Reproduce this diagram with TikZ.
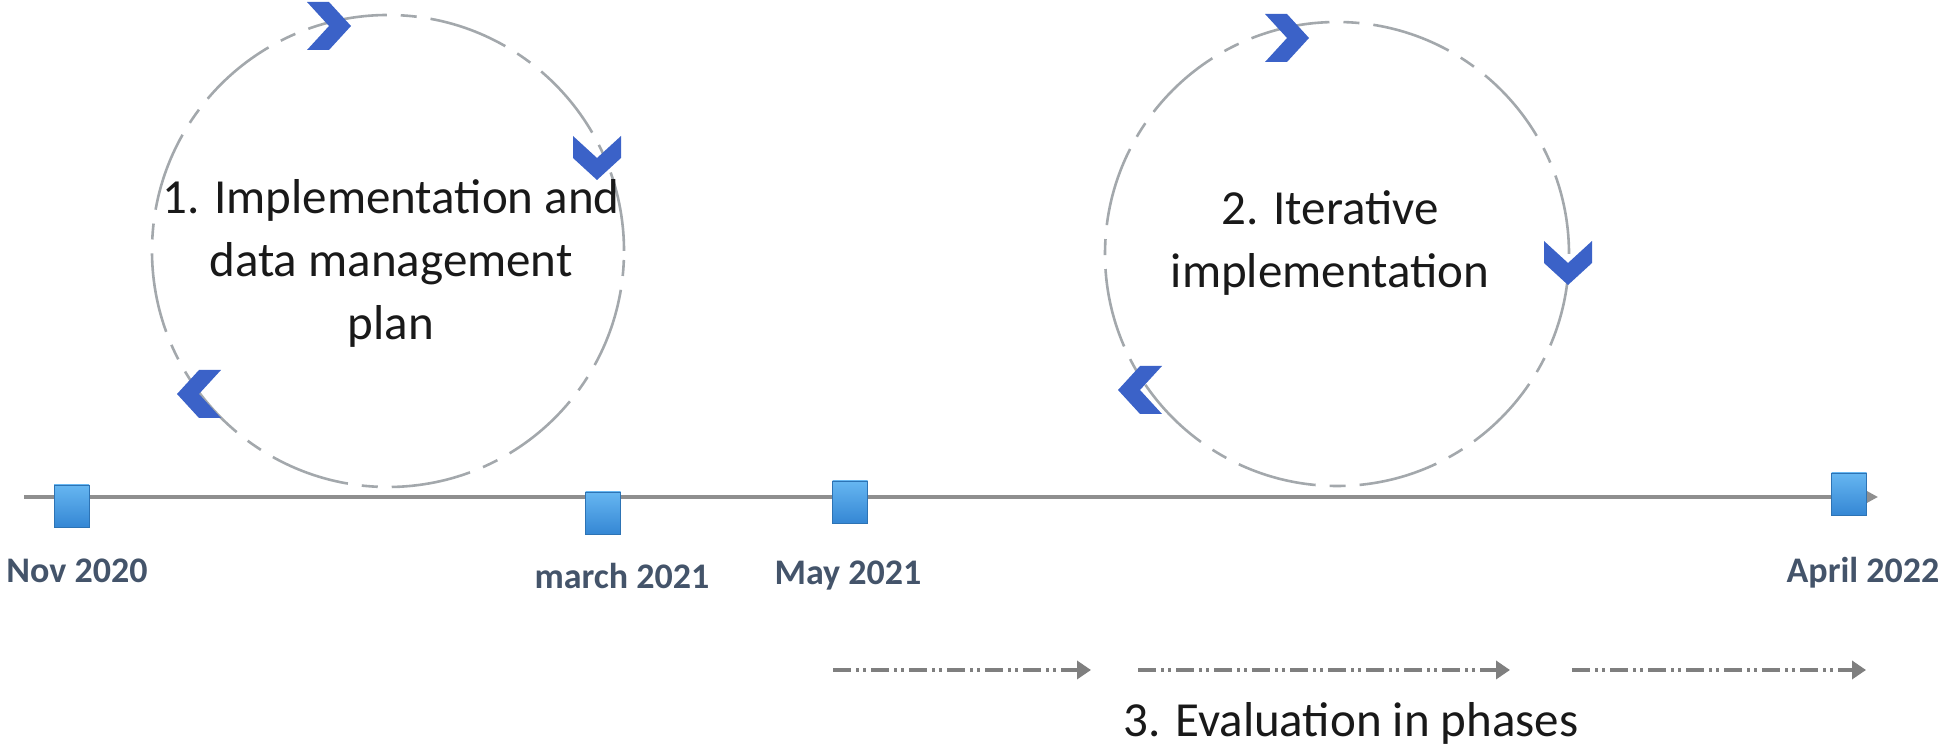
\documentclass[tikz,border=0pt]{standalone}
\usepackage{fontspec}
\setmainfont{Carlito}
\usetikzlibrary{arrows.meta}
\definecolor{chevblue}{HTML}{3B62C8}
\definecolor{sqtop}{HTML}{66B6F1}
\definecolor{sqbot}{HTML}{3587D4}
\definecolor{datecol}{HTML}{44546A}
\definecolor{linegray}{HTML}{8F8F8F}
\definecolor{ringgray}{HTML}{A3A8AC}
\definecolor{evalgray}{HTML}{7F7F7F}
\begin{document}
\begin{tikzpicture}[x=0.5pt,y=0.5pt,
 ring/.style={circle, draw=ringgray, line width=1.3pt, dash pattern=on 40pt off 7pt on 8pt off 7pt, inner sep=0pt},
 bigtext/.style={font=\fontsize{24.5}{31.5}\selectfont, align=center, text=black!90},
 datelabel/.style={font=\fontsize{18}{22}\selectfont\bfseries, text=datecol},
 marker/.style={rectangle, minimum width=17.5pt, minimum height=21pt, inner sep=0pt, top color=sqtop, bottom color=sqbot, draw=sqbot!85!black, line width=0.3pt},
 evalarrow/.style={draw=evalgray, line width=2pt, dash pattern=on 9pt off 2.5pt on 1.5pt off 2pt on 1.5pt off 2.5pt, -{Triangle[length=7pt,width=9pt]}},
 chevron/.pic={\fill[chevblue] (-22,24)--(0,24)--(22,0)--(0,-24)--(-22,-24)--(0,0)--cycle;}]
\useasboundingbox (0,0) rectangle (1944,753);

% cycles
\node[ring, minimum size=236pt] (c1) at (388,502) {};
\node[ring, minimum size=232pt] (c2) at (1337,499) {};
\node[bigtext] (t1) at (391,490) {1. Implementation and\\data management\\plan};
\node[bigtext] (t2) at (1330,510) {2. Iterative\\implementation};

\pic at (329,727) {chevron};
\pic[rotate=-90] at (597,595) {chevron};
\pic[rotate=180] at (199,359) {chevron};
\pic at (1287,715) {chevron};
\pic[rotate=-90] at (1568,490) {chevron};
\pic[rotate=180] at (1140,363) {chevron};

% timeline
\coordinate (tlstart) at (24,256);
\coordinate (tlend) at (1878,256);
\draw[linegray, line width=1.6pt, -{Triangle[length=6pt,width=6pt]}] (tlstart) -- (tlend);

\node[marker] (m1) at (71.5,247) {};
\node[marker] (m2) at (603,240) {};
\node[marker] (m3) at (850,251) {};
\node[marker] (m4) at (1849,259) {};

\node[datelabel] (d1) at (77,182) {Nov 2020};
\node[datelabel] (d2) at (622,177) {march 2021};
\node[datelabel] (d3) at (848,177) {May 2021};
\node[datelabel] (d4) at (1863,180) {April 2022};

% evaluation phases
\coordinate (e1s) at (833,83);
\coordinate (e1e) at (1091,83);
\coordinate (e2s) at (1138,83);
\coordinate (e2e) at (1510,83);
\coordinate (e3s) at (1572,83);
\coordinate (e3e) at (1866,83);
\draw[evalarrow] (e1s) -- (e1e);
\draw[evalarrow] (e2s) -- (e2e);
\draw[evalarrow] (e3s) -- (e3e);
\node[bigtext] (t3) at (1351,30) {3. Evaluation in phases};
\end{tikzpicture}
\end{document}
